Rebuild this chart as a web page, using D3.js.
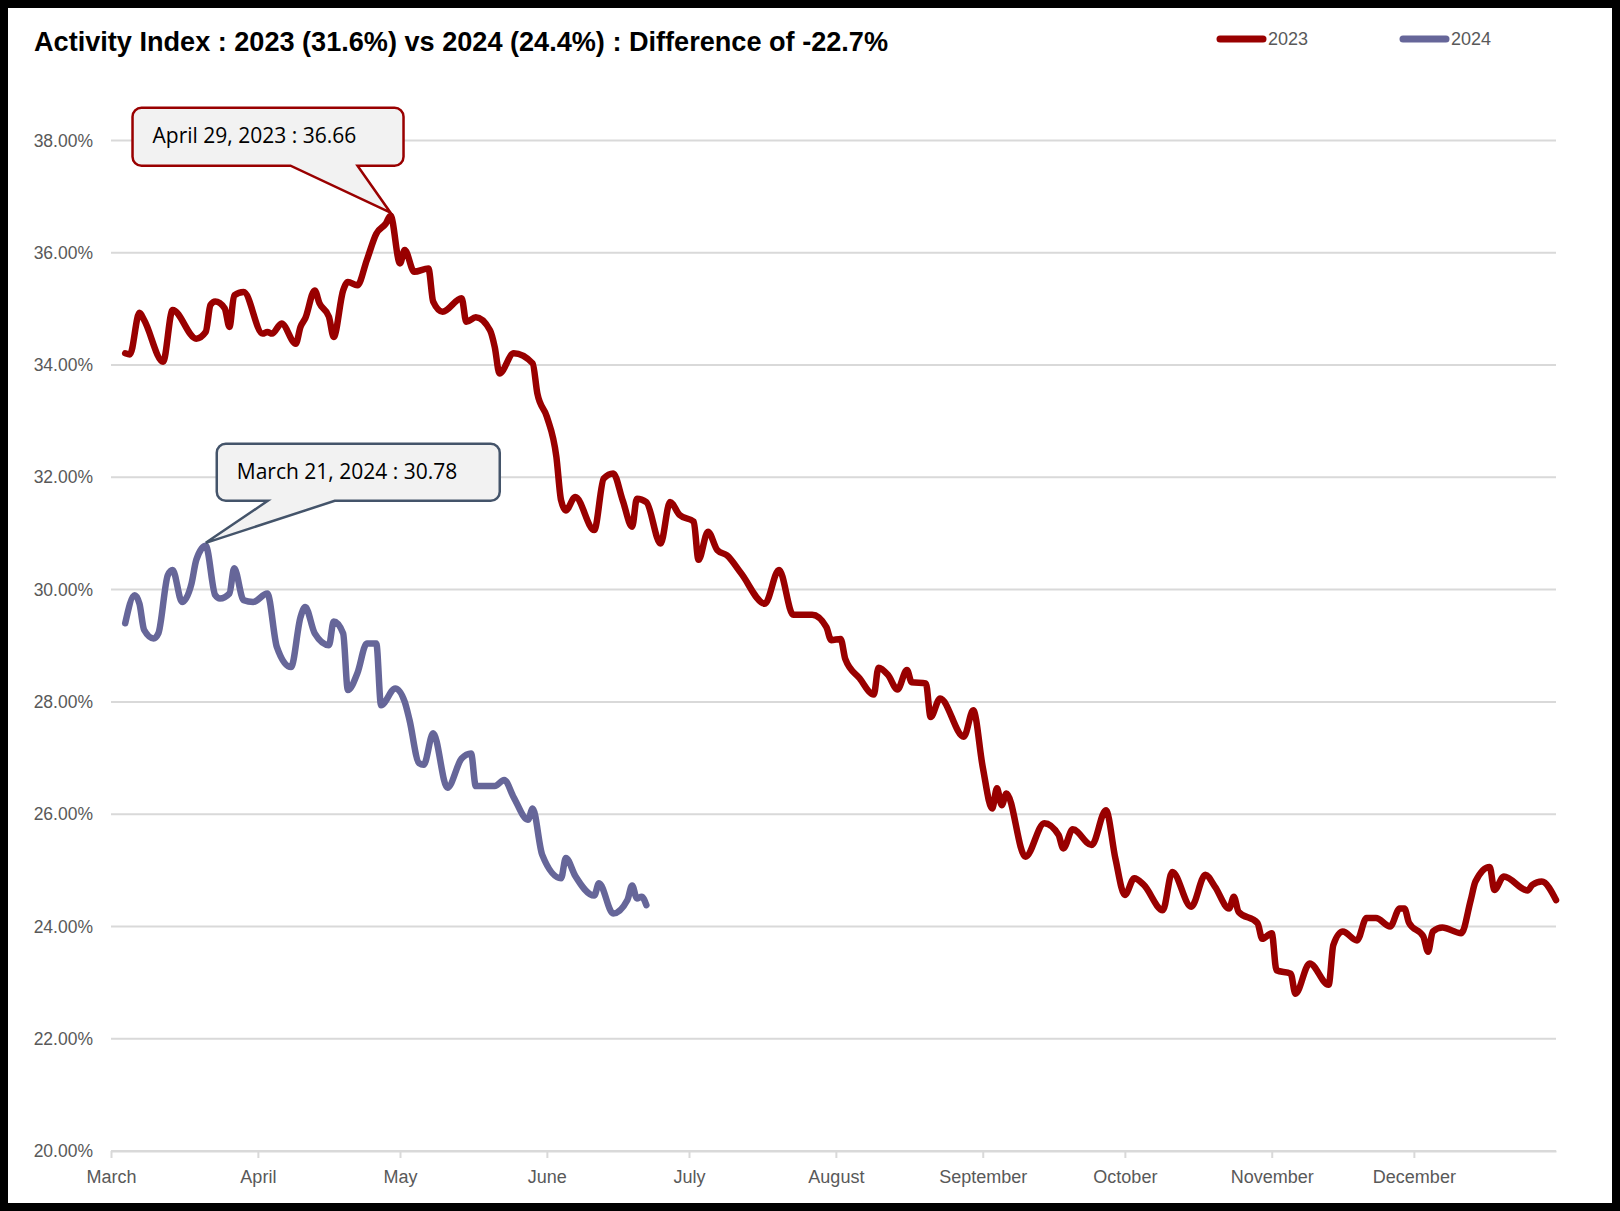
<!DOCTYPE html>
<html>
<head>
<meta charset="utf-8">
<script src="https://cdn.jsdelivr.net/npm/d3@7"></script>
<style>
  body { margin: 0; background: #000; }
  svg { display: block; }
</style>
</head>
<body>
<div id="chart"></div>
<script>
// daily index values (month-day of each point)
const days2023 = ["03-04","03-05","03-07","03-08","03-12","03-14","03-19","03-21","03-22","03-23","03-25","03-26","03-27","03-29",
  "04-02","04-03","04-04","04-06","04-09","04-10","04-11","04-13","04-14","04-16","04-17","04-19","04-20","04-22","04-24","04-26","04-28","04-29",
  "05-01","05-02","05-04","05-07","05-08","05-10","05-14","05-15","05-17","05-20","05-21","05-22","05-25","05-29","05-30",
  "06-01","06-03","06-04","06-05","06-07","06-11","06-13","06-15","06-17","06-19","06-20","06-22","06-25","06-27","06-29",
  "07-02","07-03","07-05","07-07","07-09","07-12","07-17","07-20","07-23","07-27","07-30","07-31",
  "08-02","08-03","08-06","08-09","08-10","08-12","08-14","08-16","08-17","08-20","08-21","08-23","08-28","08-30",
  "09-01","09-03","09-04","09-05","09-06","09-10","09-14","09-17","09-18","09-20","09-24","09-27","09-29",
  "10-01","10-03","10-05","10-09","10-11","10-15","10-18","10-20","10-23","10-24","10-25","10-29","10-30",
  "11-01","11-02","11-05","11-06","11-09","11-13","11-14","11-16","11-19","11-21","11-23","11-26","11-28","11-29","11-30",
  "12-03","12-04","12-05","12-07","12-11","12-13","12-14","12-17","12-18","12-20","12-25","12-26","12-28","12-31"];
const values2023 = [34.21,34.19,34.93,34.80,34.06,34.98,34.47,34.59,35.07,35.13,35.01,34.68,35.24,35.30,
  34.56,34.59,34.56,34.74,34.38,34.68,34.83,35.33,35.10,34.86,34.50,35.33,35.48,35.42,35.87,36.34,36.52,36.66,
  35.81,36.05,35.66,35.72,35.13,34.95,35.19,34.77,34.85,34.62,34.32,33.85,34.21,34.03,33.49,
  33.08,32.37,31.59,31.41,31.65,31.06,31.98,32.07,31.59,31.12,31.62,31.56,30.82,31.56,31.33,
  31.21,30.53,31.03,30.70,30.61,30.29,29.75,30.35,29.55,29.55,29.33,29.10,
  29.12,28.76,28.42,28.13,28.61,28.48,28.22,28.57,28.35,28.33,27.73,28.06,27.38,27.85,
  26.84,26.10,26.46,26.16,26.37,25.24,25.84,25.63,25.39,25.73,25.45,26.07,25.21,
  24.56,24.86,24.74,24.29,24.97,24.35,24.92,24.71,24.32,24.53,24.26,24.06,23.78,
  23.88,23.22,23.16,22.80,23.34,22.96,23.67,23.91,23.75,24.15,24.15,24.00,24.32,24.32,24.06,
  23.82,23.55,23.91,23.98,23.88,24.47,24.80,25.06,24.65,24.89,24.64,24.74,24.80,24.47];

const days2024 = ["03-04","03-06","03-07","03-08","03-10","03-11","03-13","03-14","03-16","03-18","03-19","03-21","03-23","03-24","03-26","03-27","03-29","03-31",
  "04-03","04-05","04-08","04-10","04-11","04-13","04-16","04-17","04-19","04-20","04-22","04-24","04-26","04-27","04-30",
  "05-02","05-03","05-05","05-06","05-08","05-11","05-14","05-16","05-17","05-21","05-23","05-25","05-28","05-29","05-31",
  "06-04","06-05","06-07","06-11","06-12","06-15","06-18","06-19","06-20","06-21","06-22"];
const values2024 = [29.40,29.90,29.75,29.28,29.13,29.22,30.26,30.35,29.78,30.11,30.53,30.78,29.90,29.84,29.93,30.38,29.81,29.78,
  29.93,28.98,28.62,29.51,29.69,29.22,29.01,29.43,29.22,28.21,28.51,29.04,29.04,27.94,28.24,
  28.00,27.68,26.91,26.88,27.44,26.47,26.99,27.08,26.50,26.50,26.61,26.30,25.90,26.10,25.28,
  24.86,25.22,24.90,24.55,24.77,24.23,24.47,24.73,24.50,24.53,24.38];

const yTicks = [20, 22, 24, 26, 28, 30, 32, 34, 36, 38];
const seriesNames = ["2023", "2024"];
const seriesColors = ["#990000", "#666699"];
const calloutBorders = ["#990000", "#44546A"];
const titleText = "Activity Index : 2023 (31.6%) vs 2024 (24.4%) : Difference of -22.7%";

const W = 1620, H = 1211;
const parse = d3.timeParse("%Y-%m-%d");
const fmtDay = d3.timeFormat("%B %-d");

// both years are drawn on the same Mar..Dec axis
const toSeries = (days, values, year) => days.map((md, i) => ({
  date: parse("2023-" + md),
  real: parse(year + "-" + md),
  value: values[i]
}));
const series = [
  toSeries(days2023, values2023, "2023"),
  toSeries(days2024, values2024, "2024")
];

const svg = d3.select("#chart").append("svg")
  .attr("width", W)
  .attr("height", H);

svg.append("rect").attr("width", W).attr("height", H).attr("fill", "#000");
svg.append("rect").attr("x", 8).attr("y", 8).attr("width", W - 16).attr("height", H - 16).attr("fill", "#fff");

const x = d3.scaleTime()
  .domain([parse("2023-03-01"), parse("2023-12-31")])
  .range([111, 1556]);
const y = d3.scaleLinear()
  .domain([20, 38])
  .range([1151, 140.5]);

// gridlines
svg.append("g")
  .selectAll("line")
  .data(yTicks)
  .enter()
  .append("line")
  .attr("x1", x.range()[0])
  .attr("x2", x.range()[1])
  .attr("y1", d => y(d))
  .attr("y2", d => y(d))
  .attr("stroke", "#d9d9d9")
  .attr("stroke-width", 2);

// y labels
svg.append("g")
  .selectAll("text")
  .data(yTicks)
  .enter()
  .append("text")
  .attr("x", 93)
  .attr("y", d => y(d))
  .attr("dy", "0.35em")
  .attr("text-anchor", "end")
  .attr("fill", "#595959")
  .style("font-family", "'Liberation Sans', Arial, sans-serif")
  .style("font-size", "17.5px")
  .text(d => d.toFixed(2) + "%");

// x axis
const xAxis = svg.append("g")
  .attr("transform", `translate(0,${y(20)})`)
  .call(d3.axisBottom(x)
    .tickValues(d3.timeMonth.range(parse("2023-03-01"), parse("2024-01-01")))
    .tickFormat(d3.timeFormat("%B"))
    .tickSize(7)
    .tickSizeOuter(0)
    .tickPadding(12));
xAxis.select(".domain").attr("stroke", "#d9d9d9").attr("stroke-width", 2);
xAxis.selectAll(".tick line").attr("stroke", "#d9d9d9").attr("stroke-width", 2);
xAxis.selectAll(".tick text")
  .attr("fill", "#595959")
  .style("font-family", "'Liberation Sans', Arial, sans-serif")
  .style("font-size", "18px");

// lines
const line = d3.line()
  .x(d => x(d.date))
  .y(d => y(d.value))
  .curve(d3.curveMonotoneX);

svg.append("g")
  .selectAll("path")
  .data(series)
  .enter()
  .append("path")
  .attr("d", d => line(d))
  .attr("fill", "none")
  .attr("stroke", (d, i) => seriesColors[i])
  .attr("stroke-width", 6.5)
  .attr("stroke-linecap", "round")
  .attr("stroke-linejoin", "round");

// callouts on each series peak
function calloutPath(l, t, r, b, rad, pl, pr, tx, ty) {
  return `M${l + rad},${t} H${r - rad} A${rad},${rad} 0 0 1 ${r},${t + rad} V${b - rad} A${rad},${rad} 0 0 1 ${r - rad},${b}` +
    ` H${pr} L${tx},${ty} L${pl},${b} H${l + rad} A${rad},${rad} 0 0 1 ${l},${b - rad} V${t + rad} A${rad},${rad} 0 0 1 ${l + rad},${t} Z`;
}

// box offsets relative to the tip: [left, top, right, bottom, pointerLeft, pointerRight]
const calloutBoxes = [
  [-258, -105, 13, -47, -100, -33],
  [11, -99, 294, -42, 62, 129]
];

series.forEach((s, i) => {
  const peak = s[d3.maxIndex(s, d => d.value)];
  const tx = x(peak.date), ty = y(peak.value) - 3;
  const b = calloutBoxes[i];
  const g = svg.append("g");
  g.append("path")
    .attr("d", calloutPath(tx + b[0], ty + b[1], tx + b[2], ty + b[3], 9, tx + b[4], tx + b[5], tx, ty))
    .attr("fill", "#f2f2f2")
    .attr("stroke", calloutBorders[i])
    .attr("stroke-width", 2.5)
    .attr("stroke-linejoin", "miter");
  g.append("text")
    .attr("x", tx + b[0] + 20)
    .attr("y", ty + b[1] + 35)
    .attr("fill", "#000")
    .style("font-family", "'Open Sans', sans-serif")
    .style("font-size", "21px")
    .text(`${fmtDay(peak.real)}, ${seriesNames[i]} : ${peak.value.toFixed(2)}`);
});

// title
svg.append("text")
  .attr("x", 34)
  .attr("y", 51)
  .attr("textLength", 854)
  .attr("lengthAdjust", "spacingAndGlyphs")
  .attr("fill", "#000")
  .style("font-family", "'Liberation Sans', Arial, sans-serif")
  .style("font-weight", "bold")
  .style("font-size", "27px")
  .text(titleText);

// legend
const legend = svg.append("g")
  .selectAll("g")
  .data(seriesNames)
  .enter()
  .append("g")
  .attr("transform", (d, i) => `translate(${1220 + i * 183},39)`);
legend.append("line")
  .attr("x1", 0).attr("x2", 43)
  .attr("stroke", (d, i) => seriesColors[i])
  .attr("stroke-width", 7)
  .attr("stroke-linecap", "round");
legend.append("text")
  .attr("x", 48)
  .attr("dy", "0.36em")
  .attr("fill", "#595959")
  .style("font-family", "'Liberation Sans', Arial, sans-serif")
  .style("font-size", "18px")
  .text(d => d);
</script>
</body>
</html>
